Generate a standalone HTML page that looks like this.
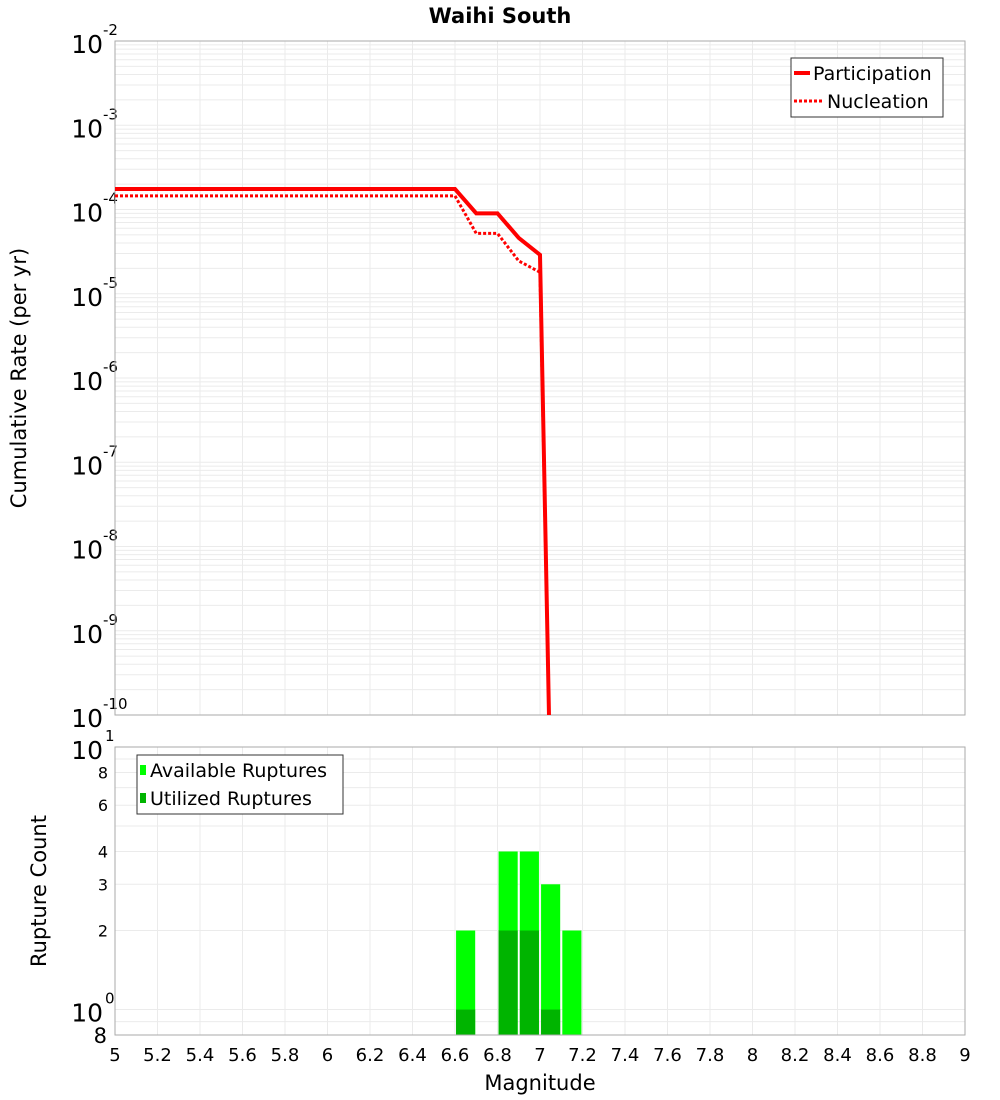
<!DOCTYPE html>
<html><head><meta charset="utf-8">
<style>
body{margin:0;background:#fff;font-family:"Liberation Sans","DejaVu Sans",sans-serif;}
svg{display:block}
</style></head>
<body>
<svg id="chart" width="1000" height="1100" xmlns="http://www.w3.org/2000/svg" font-family="DejaVu Sans, Liberation Sans, sans-serif">
<text x="500" y="23" text-anchor="middle" font-size="21" font-weight="bold">Waihi South</text>
<g id="topg"></g>
<g id="botg"></g>
<text transform="translate(26,378) rotate(-90)" text-anchor="middle" font-size="21">Cumulative Rate (per yr)</text>
<text transform="translate(46,891) rotate(-90)" text-anchor="middle" font-size="21">Rupture Count</text>
<text x="540" y="1090" text-anchor="middle" font-size="21">Magnitude</text>
</svg>
<script>
const partMags=[5,6.6,6.7,6.8,6.9,7.0,7.05];
const partRates=[1.75e-4,1.75e-4,9.0e-5,9.0e-5,4.6e-5,2.9e-5,1e-11];
const nuclMags=[5,6.6,6.7,6.8,6.9,7.0,7.05];
const nuclRates=[1.45e-4,1.45e-4,5.2e-5,5.2e-5,2.45e-5,1.8e-5,1e-11];
const barMags=[6.65,6.85,6.95,7.05,7.15];
const availCounts=[2,4,4,3,2];
const usedCounts=[1,2,2,1,0];
const xTicks=[5,5.2,5.4,5.6,5.8,6,6.2,6.4,6.6,6.8,7,7.2,7.4,7.6,7.8,8,8.2,8.4,8.6,8.8,9];
const topExps=[-2,-3,-4,-5,-6,-7,-8,-9,-10];
const botTicks=[8,6,4,3,2];

const NS="http://www.w3.org/2000/svg";
const L=115,R=965,T1=41,B1=715,T2=747,B2=1035;
const x=m=>L+(m-5)/4*(R-L);
const y1=v=>T1+(-2-Math.log10(v))*(B1-T1)/8;
const botPx=(B2-T2)/(1-Math.log10(0.8));
const y2=v=>T2+(1-Math.log10(v))*botPx;
function mk(p,tag,at,txt){const e=document.createElementNS(NS,tag);for(const k in at)e.setAttribute(k,at[k]);if(txt!==undefined)e.textContent=txt;p.appendChild(e);return e;}
const gTop=document.getElementById('topg'),gBot=document.getElementById('botg');

for(let d=-10;d<-2;d++)for(let k=1;k<10;k++){const yy=y1(k*Math.pow(10,d));
 const g=mk(gTop,'line',{x1:L,x2:R,y1:yy,y2:yy,stroke:'#ebebeb','stroke-width':1});
 
 }
for(const t of xTicks){
 const g=mk(gTop,'line',{x1:x(t),x2:x(t),y1:T1,y2:B1,stroke:'#ebebeb'});
 
 
 const g2=mk(gBot,'line',{x1:x(t),x2:x(t),y1:T2,y2:B2,stroke:'#ebebeb'});
 
 
 const tl=mk(gBot,'text',{x:x(t),y:1061,'text-anchor':'middle','font-size':18},String(t));
 
 }
for(const e of topExps){
 const t=mk(gTop,'text',{x:103,y:y1(Math.pow(10,e))+12,'text-anchor':'end','font-size':25},'10');
 
 
 const s=mk(gTop,'text',{x:103,y:y1(Math.pow(10,e))-6,'font-size':15},String(e));
 
 }
const f1=mk(gTop,'rect',{x:L,y:T1,width:R-L,height:B1-T1,fill:'none',stroke:'#aaa'});


const cp=mk(gTop,'clipPath',{id:'c1'});
mk(cp,'rect',{x:L,y:T1,width:R-L,height:B1-T1});
const pl=mk(gTop,'polyline',{points:partMags.map((m,i)=>x(m)+','+y1(partRates[i])).join(' '),fill:'none',stroke:'#f00','stroke-width':4,'clip-path':'url(#c1)'});


const nl=mk(gTop,'polyline',{points:nuclMags.map((m,i)=>x(m)+','+y1(nuclRates[i])).join(' '),fill:'none',stroke:'#f00','stroke-width':3,'stroke-dasharray':'3,2','clip-path':'url(#c1)'});


const lg=mk(gTop,'g',{});


mk(lg,'rect',{x:791,y:58,width:152,height:59,fill:'#fff',stroke:'#333'});
mk(lg,'line',{x1:794,x2:810,y1:73,y2:73,stroke:'#f00','stroke-width':4});
mk(lg,'text',{x:813,y:80,'font-size':19},'Participation');
mk(lg,'line',{x1:794,x2:822,y1:101,y2:101,stroke:'#f00','stroke-width':3,'stroke-dasharray':'3,2'});
mk(lg,'text',{x:827,y:108,'font-size':19},'Nucleation');

for(const v of [0.8,0.9,1,2,3,4,5,6,7,8,9]){const yy=y2(v);
 const g=mk(gBot,'line',{x1:L,x2:R,y1:yy,y2:yy,stroke:'#ebebeb'});
 
 }
for(const v of botTicks){
 const t=mk(gBot,'text',{x:108,y:y2(v)+6,'text-anchor':'end','font-size':16},String(v));
 
 }
[[10,'1'],[1,'0']].forEach(([v,e])=>{
 const t=mk(gBot,'text',{x:103,y:y2(v)+12,'text-anchor':'end','font-size':25},'10');
 
 
 const s=mk(gBot,'text',{x:105,y:y2(v)-6,'font-size':15},e);
 
 });
const e8=mk(gBot,'text',{x:107,y:B2+8,'text-anchor':'end','font-size':21},'8');


const bw=(x(0.09)-x(0));
barMags.forEach((m,i)=>{
 const a=mk(gBot,'rect',{x:x(m)-bw/2,y:y2(availCounts[i]),width:bw,height:B2-y2(availCounts[i]),fill:'#00ff00'});
 
 
 if(usedCounts[i]>0){
 const u=mk(gBot,'rect',{x:x(m)-bw/2,y:y2(usedCounts[i]),width:bw,height:B2-y2(usedCounts[i]),fill:'#00b400'});
 
 }
});
const f2=mk(gBot,'rect',{x:L,y:T2,width:R-L,height:B2-T2,fill:'none',stroke:'#aaa'});


const lb=mk(gBot,'g',{});


mk(lb,'rect',{x:137,y:755,width:206,height:59,fill:'#fff',stroke:'#333'});
mk(lb,'rect',{x:140,y:765,width:6,height:10,fill:'#00ff00'});
mk(lb,'text',{x:150,y:777,'font-size':19},'Available Ruptures');
mk(lb,'rect',{x:140,y:793,width:6,height:10,fill:'#00b400'});
mk(lb,'text',{x:150,y:805,'font-size':19},'Utilized Ruptures');
</script>
</body></html>
